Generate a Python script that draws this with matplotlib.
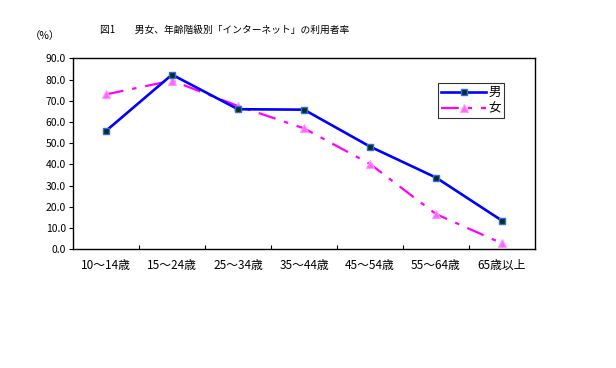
import matplotlib
matplotlib.use("Agg")
import matplotlib.pyplot as plt
import numpy as np

plt.rcParams['font.family'] = ['Noto Sans CJK JP', 'DejaVu Sans']

categories = ["10～14歳", "15～24歳", "25～34歳", "35～44歳", "45～54歳", "55～64歳", "65歳以上"]
male = [55.8, 82.3, 66.0, 65.8, 48.4, 33.8, 13.5]
female = [73.0, 79.5, 67.5, 57.0, 40.2, 16.6, 2.8]
yticks = [0, 10, 20, 30, 40, 50, 60, 70, 80, 90]

fig = plt.figure(figsize=(6.16, 3.68), dpi=100)
ax = fig.add_axes([73/616, 1-249.3/368, (535-73)/616, (249.3-58.3)/368])

x = np.arange(len(categories))
ax.plot(x, male, color='#0000FF', lw=1.9, marker='s', markersize=5,
        markerfacecolor='#003300', markeredgecolor='#3366FF', markeredgewidth=1.0, label='男', zorder=3)
ax.plot(x, female, color='#FF00FF', lw=1.6, ls=(0, (8, 4, 2, 4)), marker='^', markersize=5.5,
        markerfacecolor='#FF66FF', markeredgecolor='#FF99FF', markeredgewidth=0.8, label='女', zorder=2)

ax.set_xlim(-0.5, len(categories) - 0.5)
ax.set_ylim(0, 90)
ax.set_yticks(yticks)
ax.set_yticklabels([f"{v:.1f}" for v in yticks], fontsize=7.5)
ax.set_xticks(x)
ax.set_xticklabels(categories, fontsize=8.5)
ax.tick_params(axis='x', which='major', length=0, pad=7)
ax.set_xticks(np.arange(0.5, len(categories) - 1, 1.0), minor=True)
ax.tick_params(axis='x', which='minor', direction='in', length=3, width=0.8)
ax.tick_params(axis='y', direction='out', length=3, width=0.8, pad=2)
for s in ax.spines.values():
    s.set_linewidth(1.0)
    s.set_color('black')

leg = ax.legend(loc='upper left', bbox_to_anchor=((438-73)/462, 1-(83.3-58.3)/191), fontsize=9,
                frameon=True, fancybox=False, borderpad=0.25, labelspacing=0.2,
                handlelength=3.6, handletextpad=0.2, borderaxespad=0)
leg.get_frame().set_edgecolor('black')
leg.get_frame().set_linewidth(0.8)

fig.text(100/616, 1-30/368, "図1　　男女、年齢階級別「インターネット」の利用者率", ha='left', va='center', fontsize=7)
fig.text(45/616, 1-36/368, "（%）", ha='center', va='center', fontsize=7.5)

fig.savefig("out.png", dpi=100)
